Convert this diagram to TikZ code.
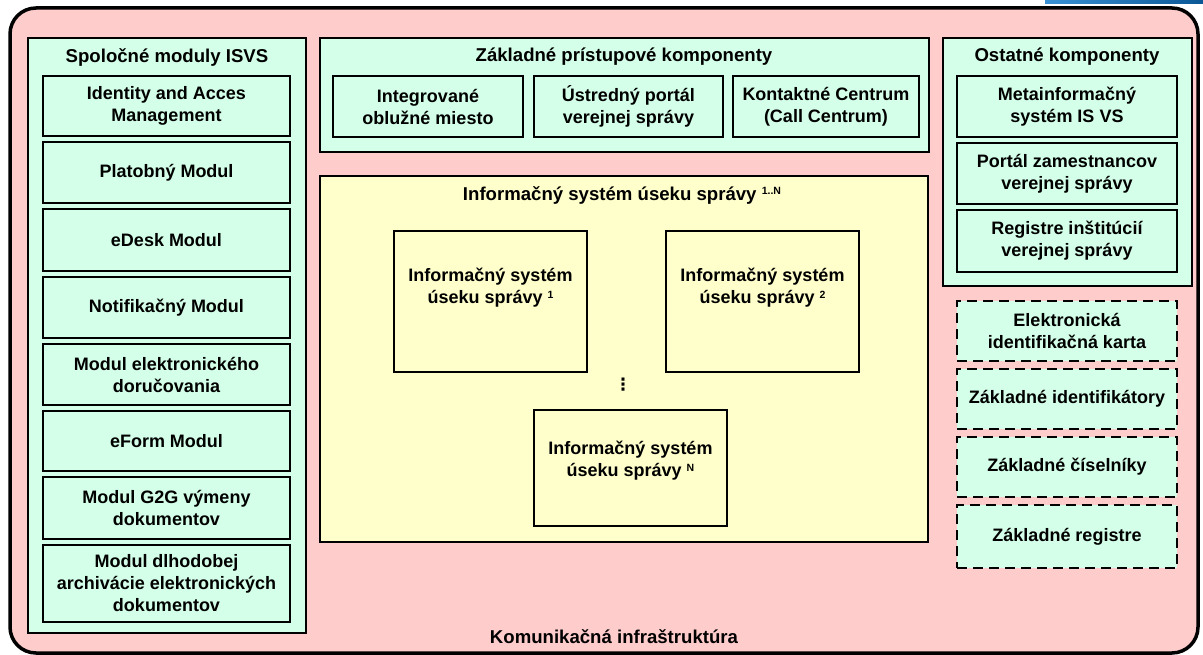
\documentclass[tikz,border=0pt]{standalone}
\usepackage{fontspec}
\setmainfont{Liberation Sans}
\newfontfamily\symfont{DejaVu Sans}

\definecolor{infra}{HTML}{FFCCCC}
\definecolor{mint}{HTML}{D4FFE8}
\definecolor{cream}{HTML}{FFFFCC}
\definecolor{barL}{HTML}{3A92D4}
\definecolor{barR}{HTML}{0B5796}

\newcommand\mainfs{\bfseries\fontsize{18}{22}\selectfont}
\newcommand\titlefs{\bfseries\fontsize{18.6}{22}\selectfont}
\newcommand\supx[1]{\raisebox{5.5pt}{\fontsize{10.5}{10}\selectfont #1}}

% \blk{style}{name}{left}{top}{right}{bottom}{text}: a box given by its corners
\newcommand\blk[7]{%
  \pgfmathsetmacro\bxc{(#3+#5)/2}%
  \pgfmathsetmacro\byc{(#4+#6)/2}%
  \pgfmathsetmacro\bw{#5-#3}%
  \pgfmathsetmacro\bh{#6-#4}%
  \node[#1, minimum width=\bw pt, minimum height=\bh pt] (#2) at (\bxc,\byc) {#7};}

\tikzset{
  frame/.style={draw=black, line width=2pt, inner sep=0pt, outer sep=0pt},
  panel/.style={frame, fill=mint},
  module/.style={frame, fill=mint, align=center, font=\mainfs},
  dashmodule/.style={module, line width=2.4pt, dash pattern=on 10pt off 6pt},
  isbox/.style={frame, fill=cream},
  istext/.style={align=center, font=\mainfs, inner sep=0pt},
  title/.style={font=\titlefs, inner sep=0pt, align=center},
}

\begin{document}
\begin{tikzpicture}[x=1pt, y=-1pt]
\useasboundingbox (0,0) rectangle (1203,655);

% header strip
\shade[left color=barL, right color=barR] (1045,0) rectangle (1203,4);

% communication infrastructure
\blk{frame, line width=3.5pt, fill=infra, rounded corners=26pt}{infra}{10}{8}{1198}{653}{}
\node[title] (infralabel) at (614,637) {Komunikačná infraštruktúra};

% shared modules
\blk{panel}{shared}{28}{38}{306}{633}{}
\node[title] (sharedtitle) at (167,57) {Spoločné moduly ISVS};
\blk{module}{iam}{43}{76}{290}{136}{Identity and Acces\\Management}
\blk{module}{pay}{43}{142}{290}{203}{Platobný Modul}
\blk{module}{edesk}{43}{209}{290}{271}{eDesk Modul}
\blk{module}{notif}{43}{277}{290}{338}{Notifikačný Modul}
\blk{module}{deliv}{43}{344}{290}{405}{Modul elektronického\\doručovania}
\blk{module}{eform}{43}{411}{290}{471}{eForm Modul}
\blk{module}{gtog}{43}{477}{290}{539}{Modul G2G výmeny\\dokumentov}
\blk{module}{archive}{43}{545}{290}{622}{Modul dlhodobej\\archivácie elektronických\\dokumentov}

% access components
\blk{panel}{access}{320}{38}{929}{152}{}
\node[title] (accesstitle) at (624,57) {Základné prístupové komponenty};
\blk{module}{iom}{333}{76}{523}{137}{Integrované\\oblužné miesto}
\blk{module}{portal}{534}{76}{723}{137}{Ústredný portál\\verejnej správy}
\blk{module}{callc}{733}{76}{919}{137}{Kontaktné Centrum\\(Call Centrum)}

% information systems
\blk{isbox}{isall}{320}{176}{928}{542}{}
\node[title] (istitle) at (622,195) {Informačný systém úseku správy \supx{1..N}};
\blk{isbox}{isone}{394}{231}{587}{372}{}
\node[istext] (isonetext) at ([yshift=13.5pt]isone.center) {Informačný systém\\úseku správy \supx{1}};
\blk{isbox}{istwo}{666}{231}{859}{372}{}
\node[istext] (istwotext) at ([yshift=13.5pt]istwo.center) {Informačný systém\\úseku správy \supx{2}};
\node[inner sep=0pt, font=\symfont\bfseries\fontsize{17}{17}\selectfont] (dots) at (623,385) {⋮};
\blk{isbox}{isn}{534}{410}{727}{526}{}
\node[istext] (isntext) at ([yshift=7pt]isn.center) {Informačný systém\\úseku správy \supx{N}};

% other components
\blk{panel}{other}{943}{38}{1192}{286}{}
\node[title] (othertitle) at (1067,57) {Ostatné komponenty};
\blk{module}{meta}{957}{76}{1177}{137}{Metainformačný\\systém IS VS}
\blk{module}{staff}{957}{143}{1177}{204}{Portál zamestnancov\\verejnej správy}
\blk{module}{inst}{957}{210}{1177}{272}{Registre inštitúcií\\verejnej správy}

% base components
\blk{dashmodule}{eid}{957}{301}{1177}{361}{Elektronická\\identifikačná karta}
\blk{dashmodule}{ident}{957}{369}{1177}{429}{Základné identifikátory}
\blk{dashmodule}{codes}{957}{437}{1177}{497}{Základné číselníky}
\blk{dashmodule}{regs}{957}{505}{1177}{568}{Základné registre}
\end{tikzpicture}
\end{document}
